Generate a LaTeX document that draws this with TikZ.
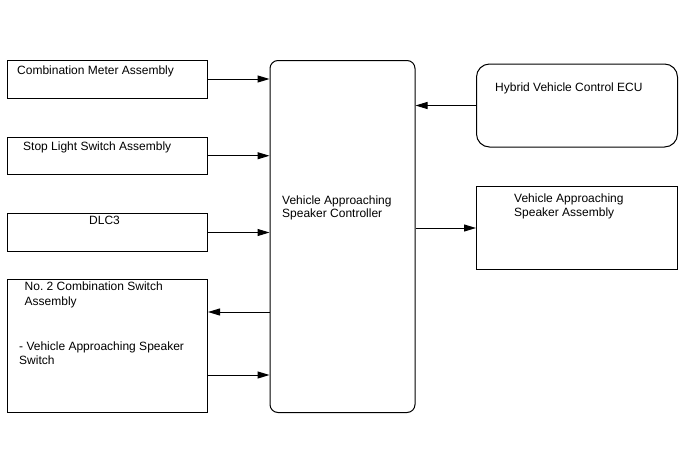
\documentclass[tikz,border=0pt]{standalone}
\usepackage{fontspec}
\setmainfont{Liberation Sans}
\usetikzlibrary{arrows.meta}
\frenchspacing
\begin{document}
\begin{tikzpicture}[x=1pt,y=-1pt,
 box/.style={draw, line width=1pt, inner sep=0pt, anchor=north west},
 rbox/.style={box, rounded corners=8pt},
 lbl/.style={anchor=base west, inner sep=0pt, font=\fontsize{12}{14}\selectfont},
 arr/.style={line width=1pt, -{Triangle[length=12pt,width=7pt]}}]
\useasboundingbox[fill=white] (0,0) rectangle (688,463);
\node[box, minimum width=200pt, minimum height=38pt] (cm) at (7,59.5) {};
\node[box, minimum width=200pt, minimum height=37.5pt] (sl) at (7,136.5) {};
\node[box, minimum width=200pt, minimum height=38pt] (dlc) at (7,213) {};
\node[box, minimum width=200pt, minimum height=133pt] (no2) at (7,279) {};
\node[rbox, minimum width=145pt, minimum height=352pt] (ctrl) at (269.5,60) {};
\node[box, rounded corners=13pt, minimum width=201pt, minimum height=83pt] (hv) at (476,63.5) {};
\node[box, minimum width=201pt, minimum height=83pt] (spk) at (476,186) {};

\node[lbl] (t1) at (17,74) {Combination Meter Assembly};
\node[lbl] (t2) at (23,150.5) {Stop Light Switch Assembly};
\node[lbl] (t3) at (89,224) {DLC3};
\node[lbl] (t4) at (24.5,290.5) {No.\ 2 Combination Switch};
\node[lbl] (t5) at (24.5,305) {Assembly};
\node[lbl] (t6) at (19,350) {- Vehicle Approaching Speaker};
\node[lbl] (t7) at (19,364) {Switch};
\node[lbl] (t8) at (282,204) {Vehicle Approaching};
\node[lbl] (t9) at (282,217.5) {Speaker Controller};
\node[lbl] (t10) at (495,91) {Hybrid Vehicle Control ECU};
\node[lbl] (t11) at (514,202.5) {Vehicle Approaching};
\node[lbl] (t12) at (514,216.5) {Speaker Assembly};

\coordinate (a1) at (0,312);
\coordinate (a2) at (0,375);
\draw[arr] (cm.east) -- (cm.east -| ctrl.west);
\draw[arr] (sl.east) -- (sl.east -| ctrl.west);
\draw[arr] (dlc.east) -- (dlc.east -| ctrl.west);
\draw[arr] (a1 -| ctrl.west) -- (a1 -| no2.east);
\draw[arr] (a2 -| no2.east) -- (a2 -| ctrl.west);
\draw[arr] (hv.west) -- (hv.west -| ctrl.east);
\draw[arr] (ctrl.east |- spk.west) -- (spk.west);
\end{tikzpicture}
\end{document}
